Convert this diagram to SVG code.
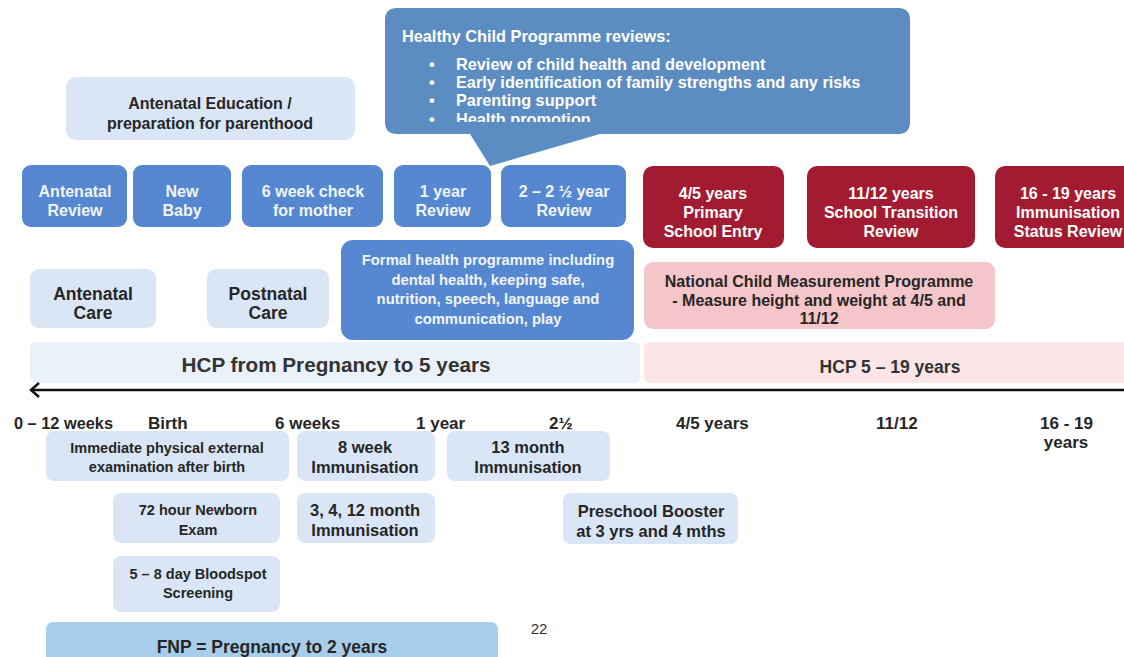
<svg xmlns="http://www.w3.org/2000/svg" width="1124" height="657" viewBox="0 0 1124 657">
<defs>
<style>
text{font-family:"Liberation Sans",Arial,sans-serif;font-weight:bold;text-anchor:middle}
.blue{fill:#5588d0}
.red{fill:#a31b30}
.lt{fill:#dae6f6}
.pink{fill:#f5c6c9}
.w{fill:#f2f5fb;font-size:16px}
.wr{fill:#ffffff;font-size:16px}
.d{fill:#262626;font-size:16px}
.d13{fill:#262626;font-size:14.5px}
.d15{fill:#262626;font-size:16.5px}
.tl{fill:#262626;font-size:17px;text-anchor:start}
.cw{fill:#ffffff;font-size:16.3px;text-anchor:start}
</style>
<clipPath id="calloutClip"><rect x="385" y="8" width="525" height="114"/></clipPath>
</defs>
<rect width="1124" height="657" fill="#ffffff"/>

<g id="callout">
<path d="M397,8 H898 Q910,8 910,20 V122 Q910,134 898,134 H600 L490,166 L470,134 H397 Q385,134 385,122 V20 Q385,8 397,8 Z" fill="#5b8dc2"/>
<g clip-path="url(#calloutClip)">
<text class="cw" x="402" y="42">Healthy Child Programme reviews:</text>
<text class="cw" x="429" y="70">•</text><text class="cw" x="456" y="70">Review of child health and development</text>
<text class="cw" x="429" y="88">•</text><text class="cw" x="456" y="88">Early identification of family strengths and any risks</text>
<text class="cw" x="429" y="106">•</text><text class="cw" x="456" y="106">Parenting support</text>
<text class="cw" x="429" y="125">•</text><text class="cw" x="456" y="125">Health promotion</text>
</g>
</g>

<g id="antenatal-education"><rect class="lt" x="66" y="77" width="289" height="63" rx="10"/>
<text class="d" x="210" y="109">Antenatal Education /</text><text class="d" x="210" y="129">preparation for parenthood</text></g>

<g id="antenatal-review"><rect class="blue" x="22" y="165" width="105" height="62" rx="9"/>
<text class="w" x="75" y="197">Antenatal</text><text class="w" x="75" y="216">Review</text></g>
<g id="new-baby"><rect class="blue" x="133" y="165" width="98" height="62" rx="9"/>
<text class="w" x="182" y="197">New</text><text class="w" x="182" y="216">Baby</text></g>
<g id="six-week-check"><rect class="blue" x="242" y="165" width="141" height="62" rx="9"/>
<text class="w" x="313" y="197">6 week check</text><text class="w" x="313" y="216">for mother</text></g>
<g id="one-year-review"><rect class="blue" x="394" y="165" width="97" height="62" rx="9"/>
<text class="w" x="443" y="197">1 year</text><text class="w" x="443" y="216">Review</text></g>
<g id="two-year-review"><rect class="blue" x="501" y="165" width="125" height="62" rx="9"/>
<text class="w" x="564" y="197">2 – 2 ½ year</text><text class="w" x="564" y="216">Review</text></g>

<g id="school-entry"><rect class="red" x="643" y="166" width="141" height="82" rx="10"/>
<text class="wr" x="713" y="199">4/5 years</text><text class="wr" x="713" y="218">Primary</text><text class="wr" x="713" y="237">School Entry</text></g>
<g id="school-transition"><rect class="red" x="807" y="166" width="168" height="82" rx="10"/>
<text class="wr" x="891" y="199">11/12 years</text><text class="wr" x="891" y="218">School Transition</text><text class="wr" x="891" y="237">Review</text></g>
<g id="immunisation-status"><rect class="red" x="995" y="166" width="140" height="82" rx="10"/>
<text class="wr" x="1068" y="199">16 - 19 years</text><text class="wr" x="1068" y="218">Immunisation</text><text class="wr" x="1068" y="237">Status Review</text></g>

<g id="antenatal-care"><rect class="lt" x="30" y="269" width="126" height="59" rx="9"/>
<text class="d" style="font-size:17.5px" x="93" y="300">Antenatal</text><text class="d" style="font-size:17.5px" x="93" y="319">Care</text></g>
<g id="postnatal-care"><rect class="lt" x="207" y="269" width="122" height="59" rx="9"/>
<text class="d" style="font-size:17.5px" x="268" y="300">Postnatal</text><text class="d" style="font-size:17.5px" x="268" y="319">Care</text></g>
<g id="formal-health"><rect class="blue" x="341" y="240" width="293" height="100" rx="12"/>
<text class="w" style="font-size:14.8px" x="488" y="265">Formal health programme including</text>
<text class="w" style="font-size:14.8px" x="488" y="285">dental health, keeping safe,</text>
<text class="w" style="font-size:14.8px" x="488" y="304">nutrition, speech, language and</text>
<text class="w" style="font-size:14.8px" x="488" y="324">communication, play</text></g>
<g id="ncmp"><rect class="pink" x="644" y="262" width="351" height="67" rx="9"/>
<text class="d" x="819" y="287">National Child Measurement Programme</text>
<text class="d" x="819" y="306">- Measure height and weight at 4/5 and</text>
<text class="d" x="819" y="324">11/12</text></g>

<g id="hcp-0-5"><rect x="30" y="342" width="610" height="41" rx="6" fill="#eaf1fb"/>
<text style="fill:#333;font-size:20.7px" x="336" y="372">HCP from Pregnancy to 5 years</text></g>
<g id="hcp-5-19"><rect x="644" y="342" width="490" height="41" rx="6" fill="#fbe5e7"/>
<text style="fill:#333;font-size:17.5px" x="890" y="373">HCP 5 – 19 years</text></g>

<g id="connectors">
<line x1="31" y1="390" x2="1124" y2="390" stroke="#111" stroke-width="2.5"/>
<polyline points="39,383 31,390 39,397" fill="none" stroke="#111" stroke-width="2.5"/>
</g>

<g id="timeline-labels">
<text class="tl" x="14" y="429" textLength="99" lengthAdjust="spacingAndGlyphs">0 – 12 weeks</text>
<text class="tl" x="148" y="429">Birth</text>
<text class="tl" x="275" y="429">6 weeks</text>
<text class="tl" x="416" y="429">1 year</text>
<text class="tl" x="549" y="429">2½</text>
<text class="tl" x="676" y="429">4/5 years</text>
<text class="tl" x="876" y="429">11/12</text>
<text class="tl" x="1040" y="429">16 - 19</text>
<text class="d" style="font-size:17px" x="1066" y="448">years</text>
</g>

<g id="immediate-exam"><rect class="lt" x="46" y="431" width="243" height="50" rx="8"/>
<text class="d13" x="167" y="453">Immediate physical external</text><text class="d13" x="167" y="472">examination after birth</text></g>
<g id="eight-week"><rect class="lt" x="297" y="431" width="138" height="50" rx="8"/>
<text class="d15" x="365" y="453">8 week</text><text class="d15" x="365" y="473">Immunisation</text></g>
<g id="thirteen-month"><rect class="lt" x="447" y="431" width="163" height="50" rx="8"/>
<text class="d15" x="528" y="453">13 month</text><text class="d15" x="528" y="473">Immunisation</text></g>
<g id="newborn-exam"><rect class="lt" x="113" y="493" width="167" height="50" rx="8"/>
<text class="d13" x="198" y="515">72 hour Newborn</text><text class="d13" x="198" y="535">Exam</text></g>
<g id="three-four-twelve"><rect class="lt" x="297" y="493" width="138" height="50" rx="8"/>
<text class="d15" x="365" y="516">3, 4, 12 month</text><text class="d15" x="365" y="536">Immunisation</text></g>
<g id="preschool-booster"><rect class="lt" x="563" y="493" width="175" height="51" rx="8"/>
<text class="d15" x="651" y="517">Preschool Booster</text><text class="d15" x="651" y="537">at 3 yrs and 4 mths</text></g>
<g id="bloodspot"><rect class="lt" x="113" y="556" width="167" height="56" rx="8"/>
<text class="d13" x="198" y="579">5 – 8 day Bloodspot</text><text class="d13" x="198" y="598">Screening</text></g>
<g id="fnp"><rect x="46" y="622" width="452" height="45" rx="7" fill="#a8cde9"/>
<text class="d" style="font-size:17.5px" x="272" y="653">FNP = Pregnancy to 2 years</text></g>
<text x="539" y="634" style="font-weight:normal;font-size:15px;fill:#333">22</text>
</svg>
